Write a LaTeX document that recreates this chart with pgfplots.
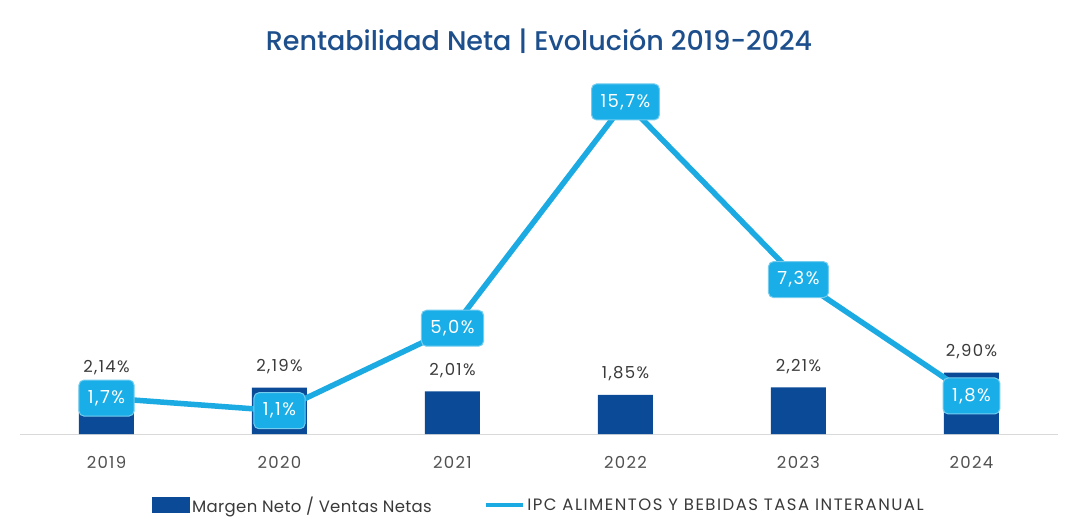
\documentclass[border=0pt]{standalone}
\usepackage{fontspec}
\setmainfont{Poppins}
\newfontfamily\numfont{Poppins}[LetterSpace=8]
\newfontfamily\legfont{Poppins}[LetterSpace=2]
\newfontfamily\capfont{Poppins}[LetterSpace=9]
\usepackage{pgfplots}
\pgfplotsset{compat=1.18}
\definecolor{barblue}{HTML}{0B4A97}
\definecolor{lineblue}{HTML}{1BAAE2}
\definecolor{labelblue}{HTML}{19AEE7}
\definecolor{labelborder}{HTML}{74CDEF}
\definecolor{titleblue}{HTML}{1D4F8C}
\definecolor{txtgray}{HTML}{3A3A3A}
\definecolor{tickgray}{HTML}{505050}
\begin{document}
\begin{tikzpicture}
\begin{axis}[
  scale only axis, width=1038pt, height=349pt,
  xmin=-0.5, xmax=5.5, ymin=0, ymax=16.5,
  axis y line=none, axis x line*=bottom,
  x axis line style={draw=gray!30, line width=1pt, -},
  xtick={0,1,2,3,4,5}, xticklabels={2019,2020,2021,2022,2023,2024},
  xtick style={draw=none},
  xticklabel style={font=\numfont\fontsize{16.5}{18}\selectfont, text=tickgray, yshift=-19pt},
  ytick=\empty,
  clip=false,
  title={Rentabilidad Neta | Evolución 2019-2024},
  title style={font=\fontsize{27}{30}\selectfont\fontspec{Poppins Medium}, text=titleblue, at={(0.5,1)}, anchor=center, yshift=38pt},
  legend style={at={(0.5,-0.2034)}, anchor=center, draw=none, legend columns=2,
    font=\fontsize{16.5}{18}\selectfont, text=txtgray,
    /tikz/every even column/.append style={column sep=50pt}},
]
\addplot[ybar, bar width=55pt, fill=barblue, draw=none,
  nodes near coords, point meta=explicit symbolic,
  nodes near coords style={font=\numfont\fontsize{16.5}{18}\selectfont, text=txtgray, yshift=10pt},
  legend image code/.code={\fill[barblue] (0pt,-8pt) rectangle (38pt,8pt);}]
  coordinates {(0,2.14)[2,14\%] (1,2.19)[2,19\%] (2,2.01)[2,01\%] (3,1.85)[1,85\%] (4,2.21)[2,21\%] (5,2.90)[2,90\%]};
\addlegendentry{\legfont Margen Neto / Ventas Netas}
\addplot[lineblue, line width=5.5pt, mark=none,
  nodes near coords, point meta=explicit symbolic,
  nodes near coords style={anchor=center, fill=labelblue, draw=labelborder, line width=1pt, rounded corners=5pt,
    text=white, inner xsep=9pt, minimum height=36pt, font=\numfont\fontsize{18}{20}\selectfont},
  legend image code/.code={\draw[lineblue, line width=4.5pt] (0pt,0pt) -- (37pt,0pt);}]
  coordinates {(0,1.7)[1,7\%] (1,1.1)[1,1\%] (2,5.0)[5,0\%] (3,15.7)[15,7\%] (4,7.3)[7,3\%] (5,1.8)[1,8\%]};
\addlegendentry{\capfont IPC ALIMENTOS Y BEBIDAS TASA INTERANUAL}
\end{axis}
\path[use as bounding box] (-20pt,-97pt) rectangle (1059pt,434pt);
\end{tikzpicture}
\end{document}
